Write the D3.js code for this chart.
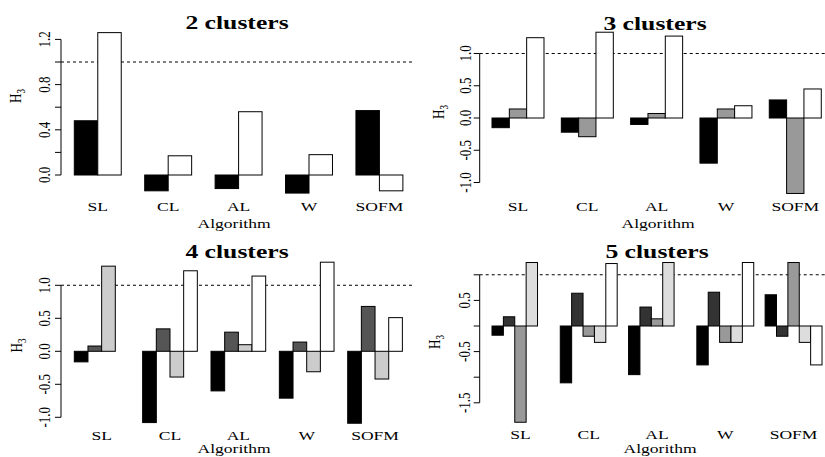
<!DOCTYPE html>
<html>
<head>
<meta charset="utf-8">
<script src="https://cdn.jsdelivr.net/npm/d3@7"></script>
<style>
  html, body { margin: 0; padding: 0; background: #fff; }
  svg { display: block; }
  text { font-family: "Liberation Serif", "Times New Roman", serif; fill: #000; }
</style>
</head>
<body>
<svg id="chart" width="825" height="457"></svg>
<script>
// ---------------- data ----------------
const algorithms = ["SL", "CL", "AL", "W", "SOFM"];
const panelTitles = ["2 clusters", "3 clusters", "4 clusters", "5 clusters"];
const xAxisTitle = "Algorithm";

// 2 clusters
const k2_s1 = [0.48, -0.14, -0.12, -0.16, 0.57];
const k2_s2 = [1.26, 0.17, 0.56, 0.18, -0.14];
// 3 clusters
const k3_s1 = [-0.15, -0.22, -0.10, -0.70, 0.28];
const k3_s2 = [0.14, -0.29, 0.07, 0.14, -1.17];
const k3_s3 = [1.245, 1.33, 1.27, 0.19, 0.45];
// 4 clusters
const k4_s1 = [-0.16, -1.08, -0.60, -0.71, -1.09];
const k4_s2 = [0.08, 0.34, 0.29, 0.14, 0.68];
const k4_s3 = [1.29, -0.39, 0.10, -0.31, -0.42];
const k4_s4 = [0.00, 1.22, 1.14, 1.35, 0.51];
// 5 clusters
const k5_s1 = [-0.18, -1.11, -0.95, -0.76, 0.61];
const k5_s2 = [0.18, 0.64, 0.37, 0.66, -0.20];
const k5_s3 = [-1.88, -0.20, 0.14, -0.32, 1.24];
const k5_s4 = [1.24, -0.32, 1.24, -0.32, -0.32];
const k5_s5 = [0.00, 1.22, 0.00, 1.24, -0.76];

// axis ticks
const k2_ticks = [0, 0.2, 0.4, 0.6, 0.8, 1.0, 1.2];
const k2_tickLabels = [0, 0.4, 0.8, 1.2];
const k3_ticks = [-1.0, -0.5, 0, 0.5, 1.0];
const k3_tickLabels = [-1.0, -0.5, 0, 0.5, 1.0];
const k4_ticks = [-1.0, -0.5, 0, 0.5, 1.0];
const k4_tickLabels = [-1.0, -0.5, 0, 0.5, 1.0];
const k5_ticks = [-1.5, -1.0, -0.5, 0, 0.5, 1.0];
const k5_tickLabels = [-1.5, -0.5, 0.5];
const refLine = 1.0;

// ---------------- layout / style ----------------
const SX = 1.35;   // horizontal stretch of the reference's text
const panels = [
  { title: panelTitles[0], series: [k2_s1, k2_s2], fills: ["#000", "#fff"],
    ticks: k2_ticks, tickLabels: k2_tickLabels,
    x1: 74.3, unit: 23.47, axisX: 61, plotRight: 414, y0: 175, y1: 62,
    titleX: 237, titleY: 29, namesY: 210.5, xlabX: 234, xlabY: 227.5,
    ylabX: 21, ylabY: 96, tickLabX: 50 },
  { title: panelTitles[1], series: [k3_s1, k3_s2, k3_s3], fills: ["#000", "#999", "#fff"],
    ticks: k3_ticks, tickLabels: k3_tickLabels,
    x1: 492, unit: 17.33, axisX: 479.7, plotRight: 825, y0: 118, y1: 53.5,
    titleX: 655, titleY: 30, namesY: 210.5, xlabX: 658, xlabY: 227.5,
    ylabX: 444, ylabY: 112, tickLabX: 471 },
  { title: panelTitles[2], series: [k4_s1, k4_s2, k4_s3, k4_s4], fills: ["#000", "#555", "#ccc", "#fff"],
    ticks: k4_ticks, tickLabels: k4_tickLabels,
    x1: 74.3, unit: 13.67, axisX: 61, plotRight: 414, y0: 351.3, y1: 285.3,
    titleX: 237, titleY: 258, namesY: 439.5, xlabX: 234, xlabY: 453,
    ylabX: 22, ylabY: 345.5, tickLabX: 50 },
  { title: panelTitles[3], series: [k5_s1, k5_s2, k5_s3, k5_s4, k5_s5], fills: ["#000", "#333", "#999", "#ddd", "#fff"],
    ticks: k5_ticks, tickLabels: k5_tickLabels,
    x1: 492, unit: 11.38, axisX: 479.7, plotRight: 825, y0: 326, y1: 274.8,
    titleX: 657, titleY: 258, namesY: 439, xlabX: 660, xlabY: 453,
    ylabX: 440, ylabY: 342, tickLabX: 470 }
];

const svg = d3.select("#chart");
svg.append("rect").attr("width", 825).attr("height", 457).attr("fill", "#fff");

const fmt = v => v.toFixed(1);

panels.forEach(p => {
  const nS = p.series.length;
  const nUnits = algorithms.length * (nS + 1);
  const x = d3.scaleLinear().domain([1, nUnits]).range([p.x1, p.x1 + (nUnits - 1) * p.unit]);
  const y = d3.scaleLinear().domain([0, 1]).range([p.y0, p.y1]);
  const g = svg.append("g");

  // reference dashed line
  g.append("line")
    .attr("x1", p.axisX).attr("x2", p.plotRight)
    .attr("y1", y(refLine)).attr("y2", y(refLine))
    .attr("stroke", "#000").attr("stroke-width", 1.1)
    .attr("stroke-dasharray", "3,3");

  // bars
  const bars = [];
  algorithms.forEach((a, gi) => {
    p.series.forEach((s, si) => {
      bars.push({ unit: 1 + gi * (nS + 1) + si, v: s[gi], fill: p.fills[si] });
    });
  });
  g.selectAll("rect.bar").data(bars).enter().append("rect")
    .attr("class", "bar")
    .attr("x", d => x(d.unit))
    .attr("width", d => x(d.unit + 1) - x(d.unit))
    .attr("y", d => Math.min(y(0), y(d.v)))
    .attr("height", d => Math.abs(y(d.v) - y(0)))
    .attr("fill", d => d.fill)
    .attr("stroke", "#000").attr("stroke-width", 1);

  // y axis
  const tmin = d3.min(p.ticks), tmax = d3.max(p.ticks);
  g.append("line")
    .attr("x1", p.axisX).attr("x2", p.axisX)
    .attr("y1", y(tmin)).attr("y2", y(tmax))
    .attr("stroke", "#000").attr("stroke-width", 1);
  g.selectAll("line.tick").data(p.ticks).enter().append("line")
    .attr("class", "tick")
    .attr("x1", p.axisX - 6).attr("x2", p.axisX)
    .attr("y1", d => y(d)).attr("y2", d => y(d))
    .attr("stroke", "#000").attr("stroke-width", 1);
  g.selectAll("text.ticklab").data(p.tickLabels).enter().append("text")
    .attr("class", "ticklab")
    .attr("transform", d => `translate(${p.tickLabX},${y(d)}) scale(${SX},1) rotate(-90)`)
    .attr("text-anchor", "middle")
    .attr("font-size", 13)
    .text(d => fmt(d));

  // y axis title H3
  const yl = g.append("text")
    .attr("transform", `translate(${p.ylabX},${p.ylabY}) scale(${SX},1) rotate(-90)`)
    .attr("text-anchor", "middle")
    .attr("font-size", 13);
  yl.append("tspan").text("H");
  yl.append("tspan").attr("font-size", 9).attr("dy", 3).text("3");

  // group names
  g.selectAll("text.name").data(algorithms).enter().append("text")
    .attr("class", "name")
    .attr("transform", (d, gi) => `translate(${x(1 + gi * (nS + 1) + nS / 2)},${p.namesY}) scale(${SX},1)`)
    .attr("text-anchor", "middle")
    .attr("font-size", 13)
    .text(d => d);

  // x axis title
  g.append("text")
    .attr("transform", `translate(${p.xlabX},${p.xlabY}) scale(${SX},1)`)
    .attr("text-anchor", "middle")
    .attr("font-size", 13)
    .text(xAxisTitle);

  // panel title
  g.append("text")
    .attr("transform", `translate(${p.titleX},${p.titleY}) scale(${SX},1)`)
    .attr("text-anchor", "middle")
    .attr("font-size", 19)
    .attr("font-weight", "bold")
    .text(p.title);
});
</script>
</body>
</html>
